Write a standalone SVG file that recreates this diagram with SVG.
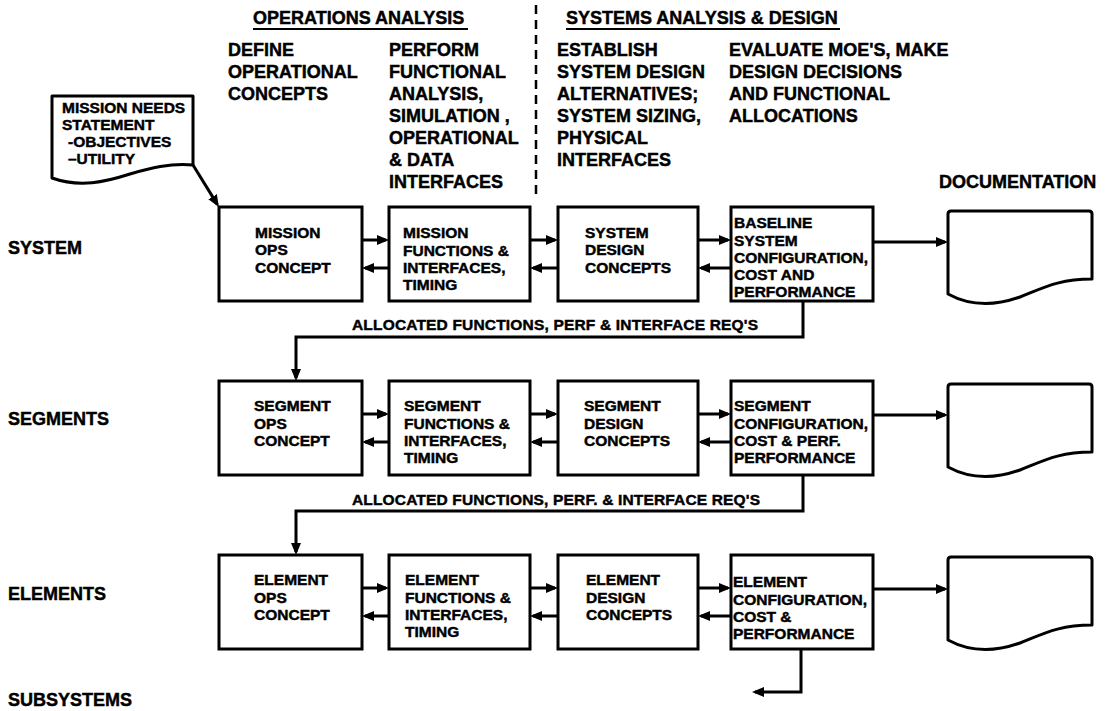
<svg xmlns="http://www.w3.org/2000/svg" xmlns:xlink="http://www.w3.org/1999/xlink" width="1109" height="711" viewBox="0 0 1109 711">
<style>
text{font-family:"Liberation Sans",Arial,sans-serif;font-weight:bold;fill:#000;stroke:#000;stroke-width:0.45px}
.t{font-size:18px}
.b{font-size:15.5px}
.lab{font-size:18px}
.al{font-size:15.5px}
.box{fill:#fff;stroke:#000;stroke-width:3}
.doc{fill:#fff;stroke:#000;stroke-width:3;stroke-linejoin:round}
.ca{fill:none;stroke:#000;stroke-width:3;marker-end:url(#ah)}
.ul{stroke:#000;stroke-width:2}
.dash{stroke:#000;stroke-width:2.5;stroke-dasharray:9 6}
</style>
<defs>
<marker id="ah" markerWidth="12" markerHeight="10" refX="9" refY="5" orient="auto" markerUnits="userSpaceOnUse"><path d="M0,0 L12,5 L0,10 Z" fill="#000"/></marker>
<path id="docShape" d="M3,0 H141 Q144,0 144,3 V68 C112,68 97,76 72,86 C47,95 22,95 0,83 V3 Q0,0 3,0 Z"/>
</defs>
<rect width="1109" height="711" fill="#fff"/>

<g id="headers">
<text class="t" x="253" y="24">OPERATIONS ANALYSIS</text>
<line class="ul" x1="253" y1="29" x2="468" y2="29"/>
<text class="t" x="566" y="24">SYSTEMS ANALYSIS &amp; DESIGN</text>
<line class="ul" x1="566" y1="29" x2="840" y2="29"/>
<line class="dash" x1="536" y1="5" x2="536" y2="196"/>
<text class="t" x="228"><tspan x="228" y="56">DEFINE</tspan><tspan x="228" y="78">OPERATIONAL</tspan><tspan x="228" y="100">CONCEPTS</tspan></text>
<text class="t" x="389"><tspan x="389" y="56">PERFORM</tspan><tspan x="389" y="78">FUNCTIONAL</tspan><tspan x="389" y="100">ANALYSIS,</tspan><tspan x="389" y="122">SIMULATION ,</tspan><tspan x="389" y="144">OPERATIONAL</tspan><tspan x="389" y="166">&amp; DATA</tspan><tspan x="389" y="188">INTERFACES</tspan></text>
<text class="t" x="557"><tspan x="557" y="56">ESTABLISH</tspan><tspan x="557" y="78">SYSTEM DESIGN</tspan><tspan x="557" y="100">ALTERNATIVES;</tspan><tspan x="557" y="122">SYSTEM SIZING,</tspan><tspan x="557" y="144">PHYSICAL</tspan><tspan x="557" y="166">INTERFACES</tspan></text>
<text class="t" x="729"><tspan x="729" y="56">EVALUATE MOE'S, MAKE</tspan><tspan x="729" y="78">DESIGN DECISIONS</tspan><tspan x="729" y="100">AND FUNCTIONAL</tspan><tspan x="729" y="122">ALLOCATIONS</tspan></text>
<text class="t" x="939" y="188">DOCUMENTATION</text>
</g>

<g id="row-labels">
<text class="lab" x="8" y="254">SYSTEM</text>
<text class="lab" x="8" y="425">SEGMENTS</text>
<text class="lab" x="8" y="600">ELEMENTS</text>
<text class="lab" x="8" y="706">SUBSYSTEMS</text>
</g>

<g id="mission-needs">
<path class="doc" d="M52,96 H193 V165 C170,163 150,168 130,174 C105,182 80,188 52,178 Z"/>
<text class="b"><tspan x="62" y="113">MISSION NEEDS</tspan><tspan x="62" y="130">STATEMENT</tspan><tspan x="68" y="147">-OBJECTIVES</tspan><tspan x="68" y="164">–UTILITY</tspan></text>
</g>

<g id="mission-ops">
<rect class="box" x="219" y="207" width="143" height="94"/>
<text class="b"><tspan x="255" y="237.5">MISSION</tspan><tspan x="255" y="255">OPS</tspan><tspan x="255" y="272.5">CONCEPT</tspan></text>
</g>
<g id="mission-functions">
<rect class="box" x="389" y="207" width="141" height="94"/>
<text class="b"><tspan x="403" y="238">MISSION</tspan><tspan x="403" y="255.5">FUNCTIONS &amp;</tspan><tspan x="403" y="273">INTERFACES,</tspan><tspan x="403" y="290">TIMING</tspan></text>
</g>
<g id="system-design">
<rect class="box" x="558" y="207" width="140" height="94"/>
<text class="b"><tspan x="585" y="237.5">SYSTEM</tspan><tspan x="585" y="255">DESIGN</tspan><tspan x="585" y="272.5">CONCEPTS</tspan></text>
</g>
<g id="baseline-config">
<rect class="box" x="731" y="207" width="142" height="94"/>
<text class="b"><tspan x="734" y="228">BASELINE</tspan><tspan x="734" y="245.5">SYSTEM</tspan><tspan x="734" y="262.5">CONFIGURATION,</tspan><tspan x="734" y="279.5">COST AND</tspan><tspan x="734" y="296.5">PERFORMANCE</tspan></text>
</g>
<g id="doc-system"><use xlink:href="#docShape" href="#docShape" class="doc" transform="translate(948,211)"/></g>

<g id="segment-ops">
<rect class="box" x="219" y="381" width="143" height="94"/>
<text class="b"><tspan x="254" y="411">SEGMENT</tspan><tspan x="254" y="428.5">OPS</tspan><tspan x="254" y="446">CONCEPT</tspan></text>
</g>
<g id="segment-functions">
<rect class="box" x="389" y="381" width="141" height="94"/>
<text class="b"><tspan x="404" y="411">SEGMENT</tspan><tspan x="404" y="428.5">FUNCTIONS &amp;</tspan><tspan x="404" y="446">INTERFACES,</tspan><tspan x="404" y="463">TIMING</tspan></text>
</g>
<g id="segment-design">
<rect class="box" x="558" y="381" width="140" height="94"/>
<text class="b"><tspan x="584" y="411">SEGMENT</tspan><tspan x="584" y="428.5">DESIGN</tspan><tspan x="584" y="446">CONCEPTS</tspan></text>
</g>
<g id="segment-config">
<rect class="box" x="731" y="381" width="142" height="94"/>
<text class="b"><tspan x="734" y="411">SEGMENT</tspan><tspan x="734" y="428.5">CONFIGURATION,</tspan><tspan x="734" y="446">COST &amp; PERF.</tspan><tspan x="734" y="463">PERFORMANCE</tspan></text>
</g>
<g id="doc-segments"><use xlink:href="#docShape" href="#docShape" class="doc" transform="translate(948,384)"/></g>

<g id="element-ops">
<rect class="box" x="219" y="555" width="143" height="94"/>
<text class="b"><tspan x="254" y="585">ELEMENT</tspan><tspan x="254" y="602.5">OPS</tspan><tspan x="254" y="620">CONCEPT</tspan></text>
</g>
<g id="element-functions">
<rect class="box" x="389" y="555" width="141" height="94"/>
<text class="b"><tspan x="405" y="585">ELEMENT</tspan><tspan x="405" y="602.5">FUNCTIONS &amp;</tspan><tspan x="405" y="620">INTERFACES,</tspan><tspan x="405" y="637">TIMING</tspan></text>
</g>
<g id="element-design">
<rect class="box" x="558" y="555" width="140" height="94"/>
<text class="b"><tspan x="586" y="585">ELEMENT</tspan><tspan x="586" y="602.5">DESIGN</tspan><tspan x="586" y="620">CONCEPTS</tspan></text>
</g>
<g id="element-config">
<rect class="box" x="731" y="555" width="142" height="94"/>
<text class="b"><tspan x="733" y="587">ELEMENT</tspan><tspan x="733" y="604.5">CONFIGURATION,</tspan><tspan x="733" y="622">COST &amp;</tspan><tspan x="733" y="639">PERFORMANCE</tspan></text>
</g>
<g id="doc-elements"><use xlink:href="#docShape" href="#docShape" class="doc" transform="translate(948,557)"/></g>

<g id="connectors">
<path class="ca" d="M193,165 L217.3,204.4"/>
<path class="ca" d="M362,240 H386"/><path class="ca" d="M389,268 H365"/>
<path class="ca" d="M530,240 H555"/><path class="ca" d="M558,268 H533"/>
<path class="ca" d="M698,240 H728"/><path class="ca" d="M731,268 H701"/>
<path class="ca" d="M873,242 H945"/>
<path class="ca" d="M803,301 V337 H296 V378"/>
<text class="al" x="352" y="330" textLength="406" lengthAdjust="spacing">ALLOCATED FUNCTIONS, PERF &amp; INTERFACE REQ'S</text>

<path class="ca" d="M362,414 H386"/><path class="ca" d="M389,442 H365"/>
<path class="ca" d="M530,414 H555"/><path class="ca" d="M558,442 H533"/>
<path class="ca" d="M698,414 H728"/><path class="ca" d="M731,442 H701"/>
<path class="ca" d="M873,415 H945"/>
<path class="ca" d="M803,475 V511 H296 V552"/>
<text class="al" x="352" y="505" textLength="408" lengthAdjust="spacing">ALLOCATED FUNCTIONS, PERF. &amp; INTERFACE REQ'S</text>

<path class="ca" d="M362,588 H386"/><path class="ca" d="M389,616 H365"/>
<path class="ca" d="M530,588 H555"/><path class="ca" d="M558,616 H533"/>
<path class="ca" d="M698,588 H728"/><path class="ca" d="M731,616 H701"/>
<path class="ca" d="M873,589 H945"/>
<path class="ca" d="M801,649 V692 H755"/>
</g>
</svg>
